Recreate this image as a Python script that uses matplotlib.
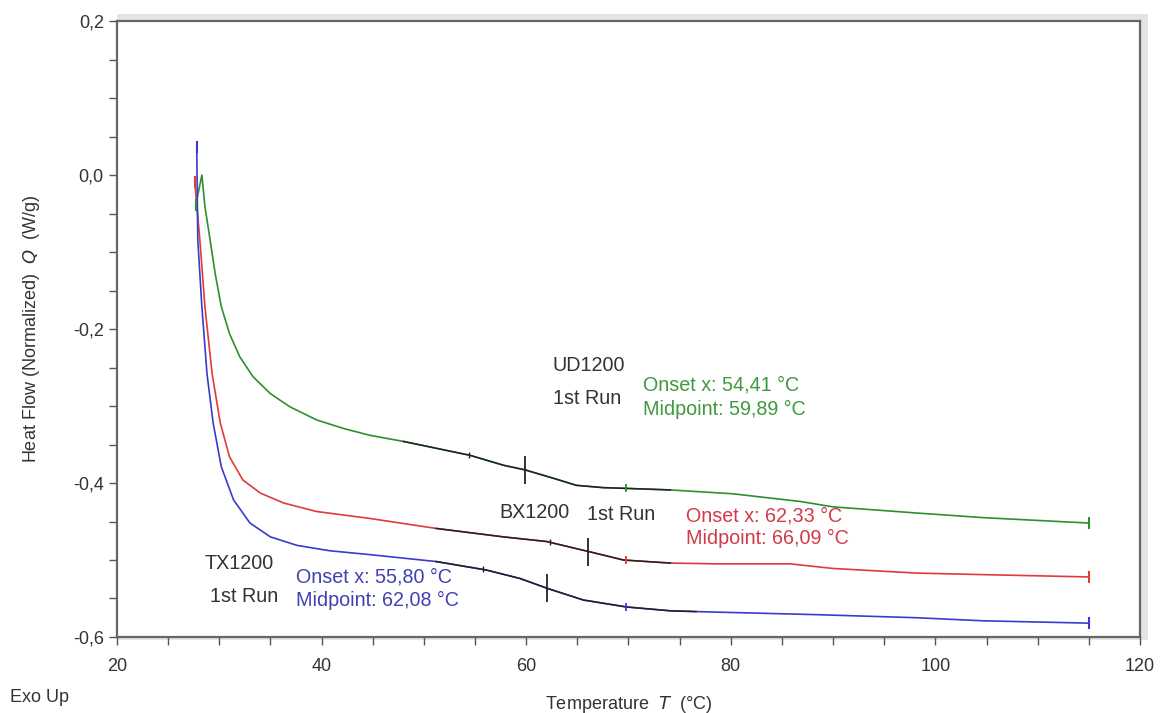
import numpy as np
import matplotlib
matplotlib.use("Agg")
import matplotlib.pyplot as plt
from matplotlib.patches import Rectangle

plt.rcParams['font.family'] = ['Liberation Sans', 'DejaVu Sans']

# UD1200 (green)
ud_t = [27.7, 28.3, 28.6, 29.1, 29.6, 30.2, 31.0, 32.0, 33.3, 35.0, 36.9, 39.5,
        42.1, 44.7, 48.0, 54.5, 57.8, 59.9, 62.7, 64.9, 67.5, 69.8, 74.1, 80.2,
        86.8, 90.0, 98.2, 104.7, 115.0]
ud_q = [-0.039, 0.000, -0.041, -0.084, -0.128, -0.171, -0.206, -0.236, -0.262,
        -0.284, -0.301, -0.318, -0.329, -0.338, -0.346, -0.364, -0.377, -0.383,
        -0.394, -0.403, -0.406, -0.407, -0.409, -0.414, -0.424, -0.431, -0.439,
        -0.445, -0.452]

# BX1200 (red)
bx_t = [27.6, 28.1, 28.6, 29.3, 30.1, 31.0, 32.3, 34.0, 36.3, 39.5, 44.7, 51.2,
        57.8, 62.0, 66.1, 69.5, 74.1, 78.6, 85.8, 90.0, 98.2, 104.7, 115.0]
bx_q = [-0.009, -0.084, -0.171, -0.258, -0.322, -0.366, -0.396, -0.413, -0.426,
        -0.437, -0.446, -0.459, -0.470, -0.476, -0.489, -0.500, -0.504, -0.505,
        -0.505, -0.511, -0.517, -0.519, -0.522]

# TX1200 (blue)
tx_t = [27.8, 27.9, 28.3, 28.8, 29.4, 30.2, 31.4, 33.0, 35.0, 37.6, 40.8, 44.7,
        51.2, 56.1, 59.4, 62.1, 65.6, 69.8, 74.1, 76.6, 88.4, 98.2, 104.7, 115.0]
tx_q = [0.036, -0.084, -0.171, -0.258, -0.322, -0.379, -0.422, -0.452, -0.470,
        -0.481, -0.488, -0.493, -0.502, -0.513, -0.524, -0.537, -0.552, -0.561,
        -0.566, -0.567, -0.571, -0.575, -0.579, -0.582]

onsets = [54.41, 62.33, 55.80]
midpoints = [59.89, 66.09, 62.08]
fit_ranges = [(48.0, 74.1), (51.2, 76.0), (51.2, 76.6)]

colors = ['#2f8f2f', '#e03a3a', '#3a3acc']
text_colors = ['#3f9a3f', '#d23a48', '#4040b4']

fig = plt.figure(figsize=(11.65, 7.13), dpi=100)

# light grey drop shadow behind the plot frame
fig.patches.append(Rectangle((117 / 1165, 1 - 640 / 713), 1031 / 1165, 626 / 713,
                             transform=fig.transFigure, facecolor='#e4e4e4',
                             edgecolor='none', zorder=-1))

ax = fig.add_axes([0.1004, 0.1066, 0.8781, 0.8639])
ax.set_zorder(2)

curves = [(ud_t, ud_q), (bx_t, bx_q), (tx_t, tx_q)]
for (t, q), c, on, mid, (a, b) in zip(curves, colors, onsets, midpoints, fit_ranges):
    t = np.array(t)
    q = np.array(q)
    ax.plot(t, q, color=c, lw=1.2, zorder=3)
    # black analysis overlay
    m = (t >= a) & (t <= b)
    ax.plot(t[m], q[m], color='#222222', lw=1.1, zorder=4)
    # start / end markers
    ax.plot([t[0], t[-1]], [q[0], q[-1]], ls='none', marker='|', ms=9, mew=1.5, color=c, zorder=5)
    # marker near 69.8
    ax.plot([69.8], [np.interp(69.8, t, q)], ls='none', marker='|', ms=6, mew=1.3, color=c, zorder=5)
    # onset and midpoint ticks
    ax.plot([on], [np.interp(on, t, q)], ls='none', marker='|', ms=5, mew=1.0, color='#222222', zorder=5)
    ax.plot([mid], [np.interp(mid, t, q)], ls='none', marker='|', ms=20, mew=1.3, color='#222222', zorder=5)

ax.set_xlim(20, 120)
ax.set_ylim(-0.6, 0.2)
ax.set_xticks([20, 40, 60, 80, 100, 120])
ax.set_xticks(np.arange(20, 121, 5), minor=True)
ax.set_yticks([-0.6, -0.4, -0.2, 0.0, 0.2])
ax.set_yticks(np.arange(-0.6, 0.201, 0.05), minor=True)
ax.set_yticklabels(['-0,6', '-0,4', '-0,2', '0,0', '0,2'])
ax.tick_params(which='both', direction='out', length=6, width=1, color='#555555',
               labelsize=13, labelcolor='#333333')
ax.tick_params(axis='x', pad=9)
for s in ax.spines.values():
    s.set_color('#666666')
    s.set_linewidth(1.6)

ax.set_xlabel('Temperature  $\\it{T}$  (°C)', fontsize=13, color='#333333', labelpad=14)
ax.set_ylabel('Heat Flow (Normalized)  $\\it{Q}$  (W/g)', fontsize=13, color='#333333', labelpad=22)

fs = 14.2
tk = dict(fontsize=fs, color='#333333', va='center', ha='left')
ax.text(62.6, -0.2468, 'UD1200', **tk)
ax.text(62.6, -0.2896, '1st Run', **tk)
ax.text(57.4, -0.4377, 'BX1200', **tk)
ax.text(65.9, -0.4403, '1st Run', **tk)
ax.text(28.6, -0.5040, 'TX1200', **tk)
ax.text(29.1, -0.5480, '1st Run', **tk)

ax.text(71.4, -0.2727, 'Onset x: 54,41 °C', fontsize=fs, color=text_colors[0], va='center')
ax.text(71.4, -0.3050, 'Midpoint: 59,89 °C', fontsize=fs, color=text_colors[0], va='center')
ax.text(75.6, -0.4430, 'Onset x: 62,33 °C', fontsize=fs, color=text_colors[1], va='center')
ax.text(75.6, -0.4714, 'Midpoint: 66,09 °C', fontsize=fs, color=text_colors[1], va='center')
ax.text(37.5, -0.5220, 'Onset x: 55,80 °C', fontsize=fs, color=text_colors[2], va='center')
ax.text(37.5, -0.5532, 'Midpoint: 62,08 °C', fontsize=fs, color=text_colors[2], va='center')

fig.text(10 / 1165, 1 - 697 / 713, 'Exo Up', fontsize=13, color='#333333', va='center', ha='left')

fig.savefig('out.png', dpi=100)
